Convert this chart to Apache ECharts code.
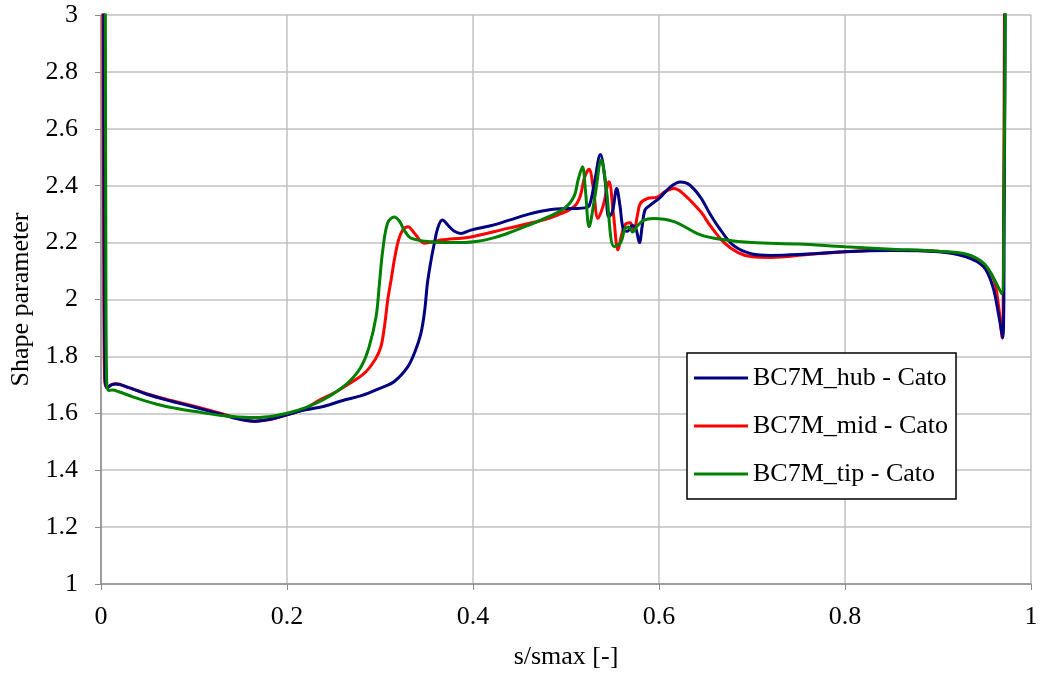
<!DOCTYPE html>
<html>
<head>
<meta charset="utf-8">
<script src="https://cdn.jsdelivr.net/npm/echarts@6/dist/echarts.min.js"></script>
<style>html,body{margin:0;padding:0;background:#fff}#c{width:1042px;height:675px}</style>
</head>
<body>
<div id="c"></div>
<script>
const seriesNames = ['BC7M_hub - Cato', 'BC7M_mid - Cato', 'BC7M_tip - Cato'];
const xTicks = [0, 0.2, 0.4, 0.6, 0.8, 1];
const yTicks = [1, 1.2, 1.4, 1.6, 1.8, 2, 2.2, 2.4, 2.6, 2.8, 3];

const hubS = [0.0028,0.0035,0.0045,0.007,0.011,0.016,0.03,0.05,0.075,0.1,0.125,0.15,0.165,0.18,0.2,0.22,0.24,0.26,0.28,0.30,0.315,0.33,0.338,0.344,0.348,0.351,0.355,0.3584,0.362,0.367,0.3745,0.38,0.387,0.3977,0.42,0.44,0.46,0.473,0.49,0.51,0.52,0.525,0.53,0.537,0.542,0.546,0.550,0.5545,0.558,0.5617,0.566,0.571,0.575,0.579,0.582,0.585,0.59,0.6017,0.612,0.623,0.632,0.6445,0.655,0.665,0.68,0.70,0.72,0.75,0.8,0.85,0.9,0.93,0.949,0.959,0.965,0.9696,0.9712,0.9725];
const hubShape = [3.3,2.2,1.72,1.69,1.70,1.703,1.69,1.666,1.643,1.622,1.60,1.578,1.572,1.578,1.595,1.612,1.625,1.645,1.662,1.688,1.711,1.764,1.82,1.881,1.96,2.057,2.14,2.197,2.25,2.279,2.256,2.24,2.232,2.244,2.26,2.28,2.30,2.31,2.318,2.32,2.322,2.33,2.40,2.51,2.42,2.29,2.31,2.39,2.33,2.245,2.24,2.26,2.25,2.20,2.26,2.315,2.33,2.36,2.395,2.413,2.405,2.36,2.30,2.25,2.19,2.16,2.155,2.158,2.168,2.172,2.168,2.15,2.115,2.045,1.95,1.865,2.3,3.3];

const midS = [0.0018,0.0028,0.0038,0.0065,0.011,0.016,0.03,0.05,0.075,0.1,0.125,0.15,0.165,0.18,0.2,0.22,0.234,0.25,0.265,0.283,0.295,0.301,0.305,0.3083,0.312,0.3154,0.32,0.3244,0.33,0.337,0.3476,0.358,0.3655,0.3977,0.437,0.47,0.491,0.5086,0.515,0.52,0.5248,0.529,0.5344,0.540,0.5462,0.551,0.5559,0.560,0.564,0.569,0.573,0.577,0.580,0.5875,0.598,0.607,0.616,0.625,0.6447,0.655,0.67,0.685,0.70,0.72,0.76,0.8,0.85,0.9,0.935,0.95,0.96,0.965,0.969,0.9705,0.9718];
const midShape = [3.3,2.2,1.72,1.69,1.70,1.704,1.69,1.668,1.645,1.625,1.603,1.58,1.572,1.577,1.595,1.617,1.645,1.67,1.70,1.74,1.79,1.834,1.91,1.998,2.07,2.139,2.21,2.244,2.256,2.233,2.198,2.203,2.209,2.22,2.25,2.275,2.297,2.326,2.36,2.43,2.458,2.40,2.285,2.33,2.414,2.30,2.174,2.23,2.265,2.27,2.244,2.30,2.338,2.355,2.36,2.38,2.39,2.375,2.309,2.26,2.20,2.165,2.15,2.148,2.158,2.168,2.173,2.17,2.15,2.12,2.07,1.98,1.865,2.3,3.3];

const tipS = [0.0045,0.0052,0.006,0.008,0.012,0.02,0.035,0.06,0.08,0.1,0.13,0.16,0.18,0.2,0.22,0.2385,0.255,0.268,0.2797,0.288,0.2958,0.2995,0.303,0.3083,0.3154,0.321,0.326,0.3333,0.355,0.38,0.401,0.42,0.437,0.455,0.473,0.498,0.5086,0.513,0.5177,0.521,0.5248,0.531,0.538,0.543,0.5516,0.5588,0.5635,0.5675,0.5716,0.577,0.5838,0.594,0.616,0.6447,0.67,0.70,0.75,0.8,0.85,0.9,0.93,0.949,0.959,0.9685,0.971,0.9728];
const tipShape = [3.3,2.2,1.72,1.68,1.682,1.675,1.657,1.632,1.618,1.607,1.592,1.585,1.588,1.60,1.62,1.647,1.68,1.715,1.764,1.83,1.94,2.06,2.174,2.27,2.29,2.275,2.244,2.216,2.203,2.20,2.203,2.215,2.232,2.255,2.279,2.32,2.362,2.42,2.467,2.38,2.256,2.36,2.49,2.40,2.186,2.20,2.25,2.255,2.237,2.26,2.279,2.285,2.274,2.227,2.21,2.20,2.195,2.185,2.177,2.17,2.16,2.128,2.08,2.02,2.4,3.3];

const colors = ['#000080', '#ff0000', '#008000'];
const zip = (a, b) => a.map((v, i) => [v, b[i]]);
const dataSets = [zip(hubS, hubShape), zip(midS, midShape), zip(tipS, tipShape)];

const font = '"Liberation Serif", "Times New Roman", serif';
const fs = 26;
const chart = echarts.init(document.getElementById('c'), null, {renderer: 'canvas'});
chart.setOption({
  animation: false,
  backgroundColor: '#fff',
  grid: {left: 99.5, right: 11, top: 15, bottom: 91, containLabel: false},
  xAxis: {
    type: 'value', min: xTicks[0], max: xTicks[xTicks.length - 1], interval: 0.2,
    name: 's/smax [-]', nameLocation: 'middle', nameGap: 60,
    nameTextStyle: {fontFamily: font, fontSize: fs, color: '#000'},
    axisLine: {show: true, onZero: false, lineStyle: {color: '#8c8c8c', width: 1.5}},
    axisTick: {show: true, length: 6, lineStyle: {color: '#8c8c8c'}},
    axisLabel: {fontFamily: font, fontSize: fs, color: '#000', margin: 20, formatter: v => String(+v.toFixed(2))},
    splitLine: {show: true, lineStyle: {color: '#c0c0c0', width: 1.5}}
  },
  yAxis: {
    type: 'value', min: yTicks[0], max: yTicks[yTicks.length - 1], interval: 0.2,
    name: 'Shape parameter', nameLocation: 'middle', nameGap: 67,
    nameTextStyle: {fontFamily: font, fontSize: fs, color: '#000'},
    axisLine: {show: true, onZero: false, lineStyle: {color: '#8c8c8c', width: 1.5}},
    axisTick: {show: true, length: 6, lineStyle: {color: '#8c8c8c'}},
    axisLabel: {fontFamily: font, fontSize: fs, color: '#000', margin: 23, formatter: v => String(+v.toFixed(2))},
    splitLine: {show: true, lineStyle: {color: '#c0c0c0', width: 1.5}}
  },
  legend: {
    orient: 'vertical', left: 687, top: 353,
    data: seriesNames,
    icon: 'rect', itemWidth: 54, itemHeight: 3, itemGap: 20,
    padding: [11, 8, 11, 7],
    borderColor: '#000', borderWidth: 1.5, backgroundColor: '#fff',
    textStyle: {fontFamily: font, fontSize: fs, color: '#000', lineHeight: 28, padding: [0, 0, 0, 0]}
  },
  series: seriesNames.map((n, i) => ({
    name: n, type: 'line', data: dataSets[i], showSymbol: false, symbol: 'none',
    smooth: 0.35, clip: true,
    lineStyle: {color: colors[i], width: 3},
    itemStyle: {color: colors[i]},
    z: 3 + (i === 1 ? 0 : i === 0 ? 1 : 2)
  }))
});
</script>
</body>
</html>
